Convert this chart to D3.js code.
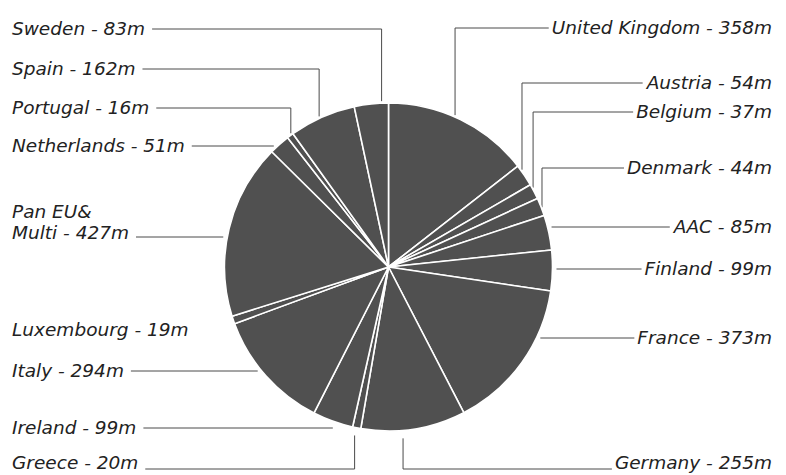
<!DOCTYPE html>
<html>
<head>
<meta charset="utf-8">
<script src="https://cdn.jsdelivr.net/npm/d3@7"></script>
<style>
  html, body { margin: 0; padding: 0; background: #fff; }
  svg { display: block; }
  text { font-family: "DejaVu Sans", sans-serif; font-style: italic; fill: #222; }
</style>
</head>
<body>
<svg id="chart" width="786" height="475"></svg>
<script>
// ---- data (clockwise from 12 o'clock) ----
const categories = ["United Kingdom", "Austria", "Belgium", "Denmark", "AAC", "Finland", "France",
  "Germany", "Greece", "Ireland", "Italy", "Luxembourg", "Pan EU& Multi", "Netherlands",
  "Portugal", "Spain", "Sweden"];
const values = [358, 54, 37, 44, 85, 99, 373, 255, 20, 99, 294, 19, 427, 51, 16, 162, 83];
const unit = "m";

// ---- label layout (annotation placement, not data) ----
const labelLayout = {
  "United Kingdom": { side: "right", y: 28, type: "elbow", frac: 0.46 },
  "Austria":        { side: "right", y: 83, type: "elbow", frac: 0.31 },
  "Belgium":        { side: "right", y: 112, type: "elbow", frac: 0.36 },
  "Denmark":        { side: "right", y: 168, type: "elbow", frac: 0.64 },
  "AAC":            { side: "right", y: 227, type: "h" },
  "Finland":        { side: "right", y: 269, type: "h" },
  "France":         { side: "right", y: 338, type: "h" },
  "Germany":        { side: "right", y: 469, type: "elbow", frac: 0.6, dy: "0em" },
  "Greece":         { side: "left", y: 469, type: "elbow", frac: 0.75, dy: "0em" },
  "Ireland":        { side: "left", y: 428, type: "hfrac", frac: 0.5 },
  "Italy":          { side: "left", y: 371, type: "h" },
  "Luxembourg":     { side: "left", y: 330, type: "none" },
  "Pan EU& Multi":  { side: "left", y: 237, type: "h", lines: ["Pan EU&", "Multi - 427m"] },
  "Netherlands":    { side: "left", y: 146, type: "h" },
  "Portugal":       { side: "left", y: 108, type: "elbow", frac: 0.6 },
  "Spain":          { side: "left", y: 69, type: "elbow", frac: 0.45 },
  "Sweden":         { side: "left", y: 29, type: "elbow", frac: 0.8 }
};

const svg = d3.select("#chart");
const cx = 388.5, cy = 267, r = 164;
const leftX = 12, rightX = 772;

const pie = d3.pie().sort(null).value(d => d.value).startAngle(0).endAngle(2 * Math.PI);
const arcs = pie(categories.map((c, i) => ({ name: c, value: values[i] })));
const arc = d3.arc().innerRadius(0).outerRadius(r);

const lines = svg.append("g").attr("fill", "none").attr("stroke", "#4a4a4a").attr("stroke-width", 1);
const labels = svg.append("g").attr("font-size", 18.5);

arcs.forEach(a => {
  const L = labelLayout[a.data.name];
  const right = L.side === "right";
  const tlines = L.lines || [a.data.name + " - " + a.data.value + unit];
  let lastNode;
  tlines.forEach((t, i) => {
    const yy = L.y - (tlines.length - 1 - i) * 21;
    lastNode = labels.append("text")
      .attr("text-anchor", right ? "end" : "start")
      .attr("x", right ? rightX : leftX)
      .attr("y", yy)
      .attr("dy", L.dy || (tlines.length > 1 ? "0.1em" : "0.3em"))
      .text(t).node();
  });
  if (L.type === "none") return;
  const bb = lastNode.getBBox();
  const textEdge = right ? bb.x - 3 : bb.x + bb.width + 7;
  let pts;
  if (L.type === "elbow") {
    const ang = a.startAngle + L.frac * (a.endAngle - a.startAngle);
    const x = cx + r * Math.sin(ang);
    const edgeDy = Math.sqrt(Math.max(0, r * r - (x - cx) * (x - cx)));
    const up = L.y < cy;
    const yEdge = up ? cy - edgeDy - 2 : cy + edgeDy + 8;
    pts = [[x, yEdge], [x, L.y], [textEdge, L.y]];
  } else if (L.type === "hfrac") {
    const ang = a.startAngle + L.frac * (a.endAngle - a.startAngle);
    const x = cx + r * Math.sin(ang);
    pts = [[x, L.y], [textEdge, L.y]];
  } else {
    const dx = Math.sqrt(Math.max(0, r * r - (L.y - cy) * (L.y - cy)));
    const x = right ? cx + dx + 4 : cx - dx - 4;
    pts = [[x, L.y], [textEdge, L.y]];
  }
  lines.append("path").attr("d", d3.line()(pts));
});

svg.append("g").attr("transform", `translate(${cx},${cy})`)
  .selectAll("path").data(arcs).join("path")
  .attr("d", arc)
  .attr("fill", "#505050")
  .attr("stroke", "#fff")
  .attr("stroke-width", 1.6)
  .attr("stroke-linejoin", "round");
</script>
</body>
</html>
